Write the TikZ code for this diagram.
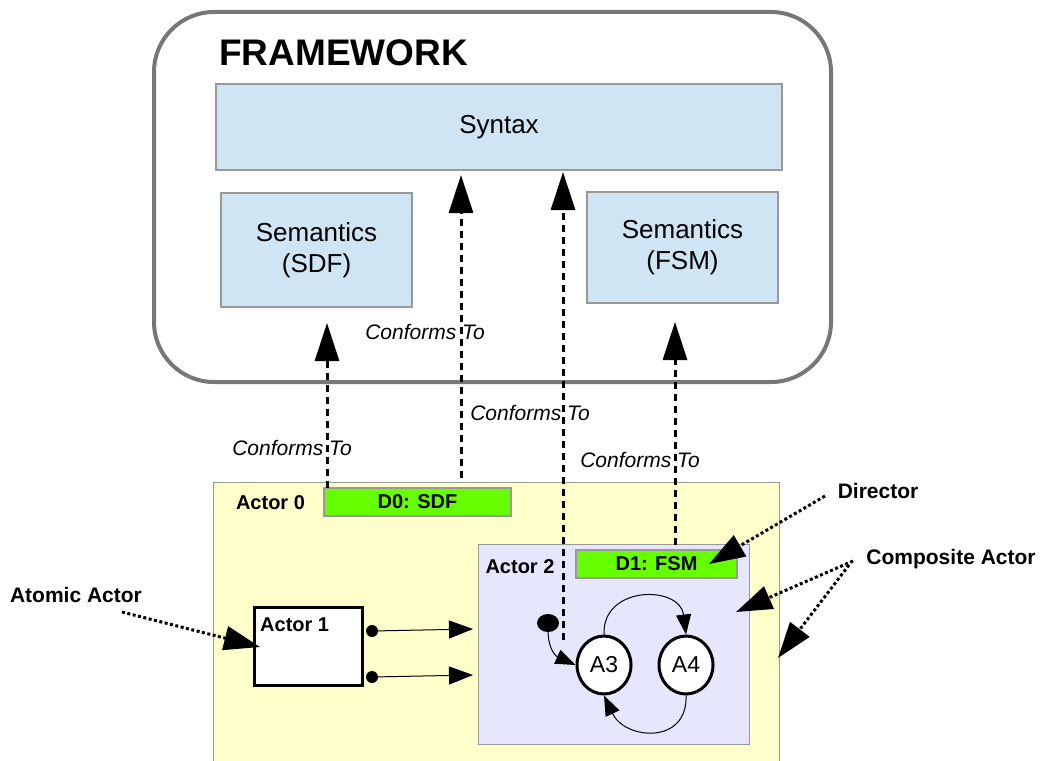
\documentclass[tikz,border=0pt]{standalone}
\usepackage{fontspec}
\setmainfont{Liberation Sans}
\usetikzlibrary{arrows.meta,shapes.geometric}
\definecolor{fwgray}{HTML}{777777}
\definecolor{boxgray}{HTML}{999999}
\definecolor{semblue}{HTML}{CFE5F3}
\definecolor{actyellow}{HTML}{FFFFCC}
\definecolor{actlav}{HTML}{E6E6FF}
\definecolor{dirgreen}{HTML}{66FF00}
\begin{document}
\begin{tikzpicture}[x=1pt,y=-1pt,
  sembox/.style={draw=boxgray, line width=1.2, fill=semblue, align=center, inner sep=0,
    font=\fontsize{26}{31}\selectfont},
  actbox/.style={draw=boxgray, line width=1.2, inner sep=0},
  dirbox/.style={draw=boxgray, line width=1.2, fill=dirgreen, inner sep=0,
    font=\bfseries\fontsize{20}{22}\selectfont},
  boldlbl/.style={font=\bfseries\fontsize{21}{24}\selectfont, inner sep=0},
  actlbl/.style={font=\bfseries\fontsize{20}{22}\selectfont, inner sep=0},
  conflbl/.style={font=\itshape\fontsize{21}{24}\selectfont, inner sep=0},
  conf/.style={line width=3, dash pattern=on 7pt off 5pt, -{Triangle[length=38pt,width=24pt]}},
  note/.style={line width=3, dash pattern=on 3pt off 2.5pt, -{Triangle[length=36pt,width=24pt]}},
  portarrow/.style={line width=1, -{Triangle[length=24pt,width=18pt]}},
  trans/.style={line width=1, -{Triangle[length=20pt,width=15pt]}},
  statenode/.style={ellipse, draw, line width=3, fill=white, minimum width=54, minimum height=58,
    inner sep=0, font=\fontsize{23}{26}\selectfont},
  portdot/.style={circle, fill, inner sep=0, minimum size=12}
]
\useasboundingbox (0,0) rectangle (1040,760);
% framework
\node[draw=fwgray, line width=4, rounded corners=60, minimum width=677, minimum height=370,
  anchor=north west, inner sep=0] (fw) at (152,10) {};
\node[anchor=base west, font=\bfseries\fontsize{37}{40}\selectfont, inner sep=0] (fwt) at (219,65) {FRAMEWORK};
\node[sembox, minimum width=566, minimum height=86] (syn) at (499,127) {Syntax};
\node[sembox, minimum width=191, minimum height=114] (sdf) at (316.5,250) {Semantics\\(SDF)};
\node[sembox, minimum width=191, minimum height=111] (fsm) at (682.5,247.5) {Semantics\\(FSM)};
% actor 0
\node[actbox, fill=actyellow, minimum width=566, minimum height=290, anchor=north west] (act0) at (213,482) {};
\node[actlbl] (act0l) at (270.5,503) {Actor 0};
\node[dirbox, minimum width=187, minimum height=28] (d0) at (417.5,502) {D0: SDF};
% actor 2
\node[actbox, fill=actlav, minimum width=271, minimum height=200, anchor=north west] (act2) at (478,544) {};
\node[actlbl] (act2l) at (520,567) {Actor 2};
\node[dirbox, minimum width=161, minimum height=28] (d1) at (656.5,564) {D1: FSM};
% actor 1
\node[draw, line width=3, fill=white, minimum width=108, minimum height=78, inner sep=0] (act1) at (308,646) {};
\node[anchor=base west, actlbl] (act1l) at (260,631) {Actor 1};
% ports
\node[portdot] (p1) at (372,631) {};
\node[portdot] (p2) at (372,677) {};
\coordinate (t1) at (473,629);
\coordinate (t2) at (473,675);
\draw[portarrow] (p1) -- (t1);
\draw[portarrow] (p2) -- (t2);
% FSM
\node[ellipse, fill, minimum width=22, minimum height=18, inner sep=0] (init) at (548,623) {};
\node[statenode] (a3) at (604,665) {A3};
\node[statenode] (a4) at (686,665) {A4};
\draw[trans] (init.south) .. controls (549,655) and (560,658) .. (a3.west);
\draw[trans] (a3.north) .. controls (602,585) and (680,585) .. (a4.north);
\draw[trans] (a4.south) .. controls (688,745) and (625,740) .. (a3.south);
% conforms-to arrows
\coordinate (c1s) at (327,488); \coordinate (c1e) at (327,323);
\coordinate (c2s) at (461,478); \coordinate (c2e) at (461,175);
\coordinate (c3s) at (563,640); \coordinate (c3e) at (563,172);
\coordinate (c4s) at (675,545); \coordinate (c4e) at (675,322);
\draw[conf] (c1s) -- (c1e);
\draw[conf] (c2s) -- (c2e);
\draw[conf] (c3s) -- (c3e);
\draw[conf] (c4s) -- (c4e);
\node[conflbl] (cl1) at (292,448) {Conforms To};
\node[conflbl] (cl2) at (425,332) {Conforms To};
\node[conflbl] (cl3) at (530,413) {Conforms To};
\node[conflbl] (cl4) at (640,460) {Conforms To};
% annotations
\node[boldlbl] (atom) at (76,595) {Atomic Actor};
\node[boldlbl] (dir) at (878,491) {Director};
\node[boldlbl] (comp) at (951,559) {Composite Actor};
\coordinate (n1s) at (122,612); \coordinate (n1e) at (260,647);
\coordinate (n2s) at (825,496); \coordinate (n2e) at (709,564);
\coordinate (n3s) at (853,561); \coordinate (n3e) at (736,612);
\coordinate (n4s) at (849,565); \coordinate (n4e) at (778,658);
\draw[note] (n1s) -- (n1e);
\draw[note] (n2s) -- (n2e);
\draw[note] (n3s) -- (n3e);
\draw[note] (n4s) -- (n4e);
\end{tikzpicture}
\end{document}
